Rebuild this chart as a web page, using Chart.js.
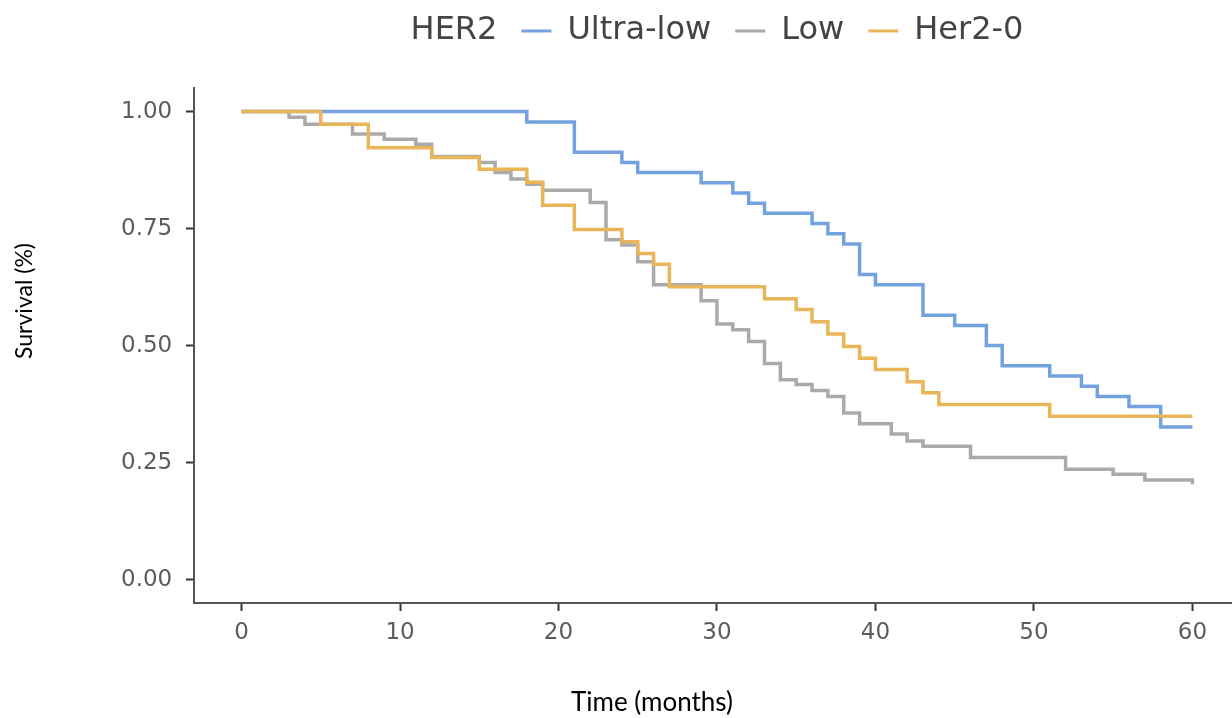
<!DOCTYPE html>
<html>
<head>
<meta charset="utf-8">
<script src="https://cdn.jsdelivr.net/npm/chart.js@4.4.0/dist/chart.umd.min.js"></script>
<style>
  html, body { margin: 0; padding: 0; background: #fff; }
  canvas { display: block; }
</style>
</head>
<body>
<canvas id="km" width="1232" height="718"></canvas>
<script>
// Kaplan-Meier curves by HER2 group

const groupTitle = 'HER2';
const groupNames = ['Ultra-low', 'Low', 'Her2-0'];
const groupColors = ['#74a2de', '#aaaaaa', '#e8b659'];

// event times (months) and survival after each step
const ultraLowTime = [0, 18, 21, 24, 25, 29, 31, 32, 33, 36, 37, 38, 39, 40, 43, 45, 47, 48, 51, 53, 54, 56, 58, 60];
const ultraLowSurv = [1, 0.978, 0.913, 0.891, 0.870, 0.848, 0.826, 0.804, 0.783, 0.761, 0.739, 0.717, 0.652, 0.630, 0.565, 0.543, 0.500, 0.457, 0.435, 0.413, 0.391, 0.370, 0.326, 0.326];

const lowTime = [0, 3, 4, 7, 9, 11, 12, 15, 16, 17, 18, 19, 22, 23, 24, 25, 26, 29, 30, 31, 32, 33, 34, 35, 36, 37, 38, 39, 41, 42, 43, 46, 52, 55, 57, 60];
const lowSurv = [1, 0.988, 0.973, 0.952, 0.941, 0.930, 0.904, 0.891, 0.870, 0.856, 0.845, 0.832, 0.806, 0.726, 0.715, 0.679, 0.630, 0.596, 0.546, 0.534, 0.509, 0.462, 0.427, 0.417, 0.404, 0.391, 0.356, 0.333, 0.311, 0.296, 0.285, 0.261, 0.236, 0.225, 0.213, 0.204];

const her2ZeroTime = [0, 5, 8, 12, 15, 18, 19, 21, 24, 25, 26, 27, 33, 35, 36, 37, 38, 39, 40, 42, 43, 44, 51, 60];
const her2ZeroSurv = [1, 0.973, 0.923, 0.902, 0.877, 0.849, 0.800, 0.748, 0.722, 0.697, 0.674, 0.626, 0.600, 0.577, 0.551, 0.525, 0.498, 0.473, 0.449, 0.423, 0.399, 0.374, 0.349, 0.349];

const xTicks = [0, 10, 20, 30, 40, 50, 60];
const yTicks = [0, 0.25, 0.5, 0.75, 1];
const yTickLabels = ['0.00', '0.25', '0.50', '0.75', '1.00'];
const xTitle = 'Time (months)';
const yTitle = 'Survival (%)';

function toPoints(times, surv) {
  return times.map((t, i) => ({ x: t, y: surv[i] }));
}

const seriesTimes = [ultraLowTime, lowTime, her2ZeroTime];
const seriesSurv = [ultraLowSurv, lowSurv, her2ZeroSurv];

const datasets = groupNames.map((name, i) => ({
  label: name,
  data: toPoints(seriesTimes[i], seriesSurv[i]),
  borderColor: groupColors[i],
  backgroundColor: groupColors[i],
  borderWidth: 3.5,
  pointRadius: 0,
  stepped: true,
  fill: false,
  order: groupNames.length - i // last group drawn on top, like ggplot
}));

// axis titles sit off-centre in the original, so draw them by hand
const axisTitles = {
  id: 'axisTitles',
  afterDraw(chart) {
    const ctx = chart.ctx;
    ctx.save();
    ctx.fillStyle = '#000';
    ctx.textAlign = 'center';
    ctx.textBaseline = 'middle';
    ctx.font = '26px Lato';
    ctx.fillText(xTitle, 652, 703);
    ctx.translate(25, 301);
    ctx.rotate(-Math.PI / 2);
    ctx.font = '23px Lato';
    ctx.fillText(yTitle, 0, 0);
    ctx.restore();
  }
};

const tickFont = { family: 'DejaVu Sans', size: 23 };

new Chart(document.getElementById('km'), {
  type: 'line',
  data: { datasets: datasets },
  options: {
    responsive: false,
    animation: false,
    devicePixelRatio: 1,
    // wide left padding keeps the legend where the original has it
    layout: { padding: { left: 156, top: -9, right: 0, bottom: 0 } },
    scales: {
      x: {
        type: 'linear',
        min: -3,
        max: 62.5,
        afterBuildTicks: s => { s.ticks = xTicks.map(v => ({ value: v })); },
        afterFit: s => { s.height = 115; },
        grid: { drawOnChartArea: false, drawTicks: true, tickLength: 8, tickWidth: 2, tickColor: '#333' },
        border: { display: true, color: '#555', width: 2 },
        ticks: { color: '#5c5c5c', font: tickFont, padding: 8, maxRotation: 0, autoSkip: false }
      },
      y: {
        type: 'linear',
        min: -0.05,
        max: 1.05,
        afterBuildTicks: s => { s.ticks = yTicks.map(v => ({ value: v })); },
        afterFit: s => { s.width = 38; },
        grid: { drawOnChartArea: false, drawTicks: true, tickLength: 8, tickWidth: 2, tickColor: '#333' },
        border: { display: true, color: '#555', width: 2 },
        ticks: {
          color: '#5c5c5c',
          font: tickFont,
          // mirrored labels are not clipped to the narrow axis box; negative padding moves them back outside
          mirror: true,
          padding: -73,
          autoSkip: false,
          callback: (v, i) => yTickLabels[i]
        }
      }
    },
    plugins: {
      legend: {
        position: 'top',
        onClick: () => {},
        labels: {
          boxWidth: 30,
          boxHeight: 3,
          padding: 24,
          color: '#444',
          font: { family: 'DejaVu Sans', size: 32 },
          generateLabels(chart) {
            const items = Chart.defaults.plugins.legend.labels.generateLabels(chart);
            items.sort((a, b) => a.datasetIndex - b.datasetIndex);
            items.forEach(it => { it.lineWidth = 0; it.strokeStyle = 'rgba(0,0,0,0)'; });
            // legend title shown inline before the keys
            return [{
              text: groupTitle,
              fillStyle: 'rgba(0,0,0,0)',
              strokeStyle: 'rgba(0,0,0,0)',
              fontColor: '#444',
              lineWidth: 0,
              hidden: false,
              datasetIndex: -1
            }].concat(items);
          }
        }
      },
      // empty spacer between the legend and the plot
      subtitle: {
        display: true,
        text: '',
        position: 'top',
        weight: 500,
        font: { size: 1 },
        padding: { top: 30, bottom: 0 }
      },
      tooltip: { enabled: false }
    }
  },
  plugins: [axisTitles]
});
</script>
</body>
</html>
